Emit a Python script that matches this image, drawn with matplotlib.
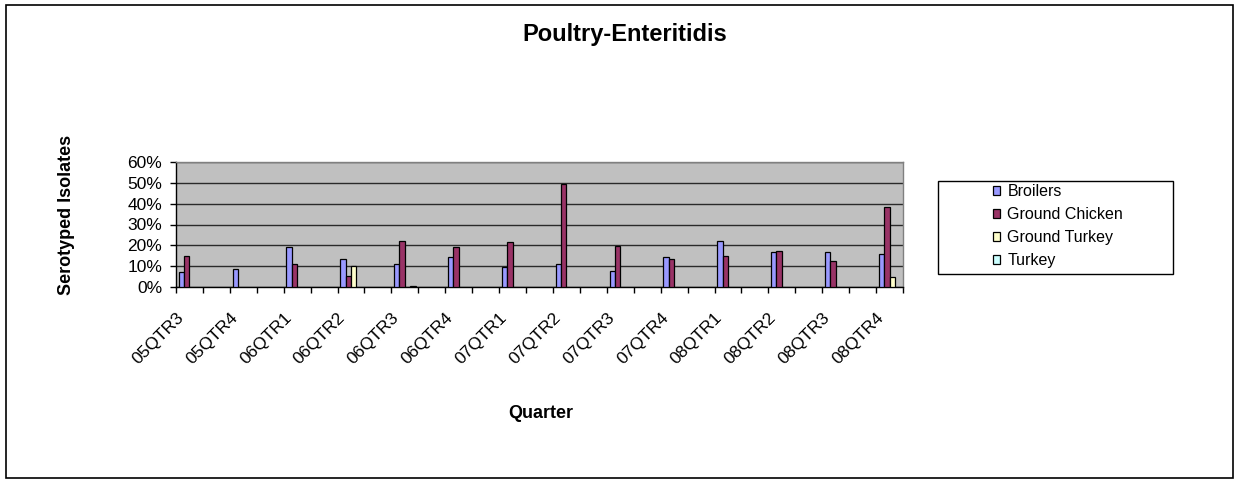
import numpy as np
import matplotlib
matplotlib.use("Agg")
import matplotlib.pyplot as plt
from matplotlib.patches import Rectangle
from matplotlib.ticker import PercentFormatter, FixedLocator
import matplotlib.transforms as mtransforms

plt.rcParams['font.family'] = ['Liberation Sans', 'DejaVu Sans']

quarters = ["05QTR3", "05QTR4", "06QTR1", "06QTR2", "06QTR3", "06QTR4", "07QTR1",
            "07QTR2", "07QTR3", "07QTR4", "08QTR1", "08QTR2", "08QTR3", "08QTR4"]
nan = np.nan
broilers = [0.070, 0.086, 0.190, 0.136, 0.110, 0.142, 0.094,
            0.110, 0.078, 0.142, 0.223, 0.166, 0.166, 0.158]
ground_chicken = [0.150, nan, 0.110, 0.054, 0.223, 0.190, 0.214,
                  0.496, 0.198, 0.134, 0.150, 0.174, 0.126, 0.383]
ground_turkey = [nan, nan, nan, 0.102, nan, nan, nan,
                 nan, nan, nan, nan, nan, nan, 0.046]
turkey = [nan, nan, nan, nan, 0.005, nan, nan,
          nan, nan, nan, nan, nan, nan, nan]
series_names = ["Broilers", "Ground Chicken", "Ground Turkey", "Turkey"]
series_colors = ["#9999FF", "#993366", "#FFFFCC", "#CCFFFF"]
yticks = [0.0, 0.1, 0.2, 0.3, 0.4, 0.5, 0.6]

W, H = 1235, 479
fig = plt.figure(figsize=(W / 100, H / 100), dpi=100)
L, R, T, B = 176, 903, 162, 287
ax = fig.add_axes([L / W, 1 - B / H, (R - L) / W, (B - T) / H])
ax.set_facecolor("#C0C0C0")

pos = np.arange(len(quarters)) * 2
bw = 0.2
all_series = [broilers, ground_chicken, ground_turkey, turkey]
handles = []
for i, (vals, name, col) in enumerate(zip(all_series, series_names, series_colors)):
    h = ax.bar(pos + (i - 1.5) * bw, vals, width=bw, color=col, edgecolor="black",
               linewidth=0.9, label=name, zorder=3)
    handles.append(h)

ax.set_xlim(-0.5, pos[-1] + 0.5)
ax.set_ylim(0, 0.6)
ax.set_yticks(yticks)
ax.yaxis.set_major_formatter(PercentFormatter(1.0, decimals=0))
ax.grid(axis="y", color="#2a2a2a", linewidth=1.0, zorder=1)
ax.set_axisbelow(True)

ax.xaxis.set_major_locator(FixedLocator(pos))
ax.set_xticklabels(quarters)
ax.xaxis.set_minor_locator(FixedLocator(np.arange(-0.5, pos[-1] + 1, 1.0)))
ax.tick_params(axis="x", which="major", length=0, pad=23, labelsize=12.5)
ax.tick_params(axis="x", which="minor", length=4, width=1, color="black", direction="out")
ax.tick_params(axis="y", length=4, width=1, color="black", direction="out", pad=6, labelsize=12.5)
offset = mtransforms.ScaledTranslation(-5 / 100, 0, fig.dpi_scale_trans)
for lab in ax.get_xticklabels():
    lab.set_rotation(45)
    lab.set_ha("right")
    lab.set_va("baseline")
    lab.set_rotation_mode("anchor")
    lab.set_transform(lab.get_transform() + offset)

ax.spines["left"].set_color("black")
ax.spines["bottom"].set_color("black")
ax.spines["top"].set_color("#808080")
ax.spines["right"].set_color("#808080")
for s in ax.spines.values():
    s.set_linewidth(1.0)

ax.set_xlabel("Quarter", fontsize=13, fontweight="bold", va="center")
ax.xaxis.set_label_coords((541 - L) / (R - L), (B - 413) / (B - T))
ax.set_ylabel("Serotyped Isolates", fontsize=13, fontweight="bold", va="center")
ax.yaxis.set_label_coords((66 - L) / (R - L), (B - 215) / (B - T))

fig.text(625 / W, 1 - 34 / H, "Poultry-Enteritidis", fontsize=17, fontweight="bold",
         ha="center", va="center")

leg = fig.legend(handles=handles, labels=series_names, loc="center",
                 bbox_to_anchor=(1058 / W, 1 - 226 / H), frameon=False, fontsize=11.5,
                 handlelength=0.45, handleheight=0.45, handletextpad=0.45,
                 labelspacing=0.5, borderpad=0)

fig.patches.append(Rectangle((938 / W, 1 - 274 / H), (1173 - 938) / W, (274 - 181) / H,
                             transform=fig.transFigure, fill=False, edgecolor="black",
                             linewidth=1.0))
fig.patches.append(Rectangle((6 / W, 1 - 478 / H), (1233 - 6) / W, (478 - 5) / H,
                             transform=fig.transFigure, fill=False, edgecolor="black",
                             linewidth=1.2))

fig.savefig("out.png", dpi=100)
